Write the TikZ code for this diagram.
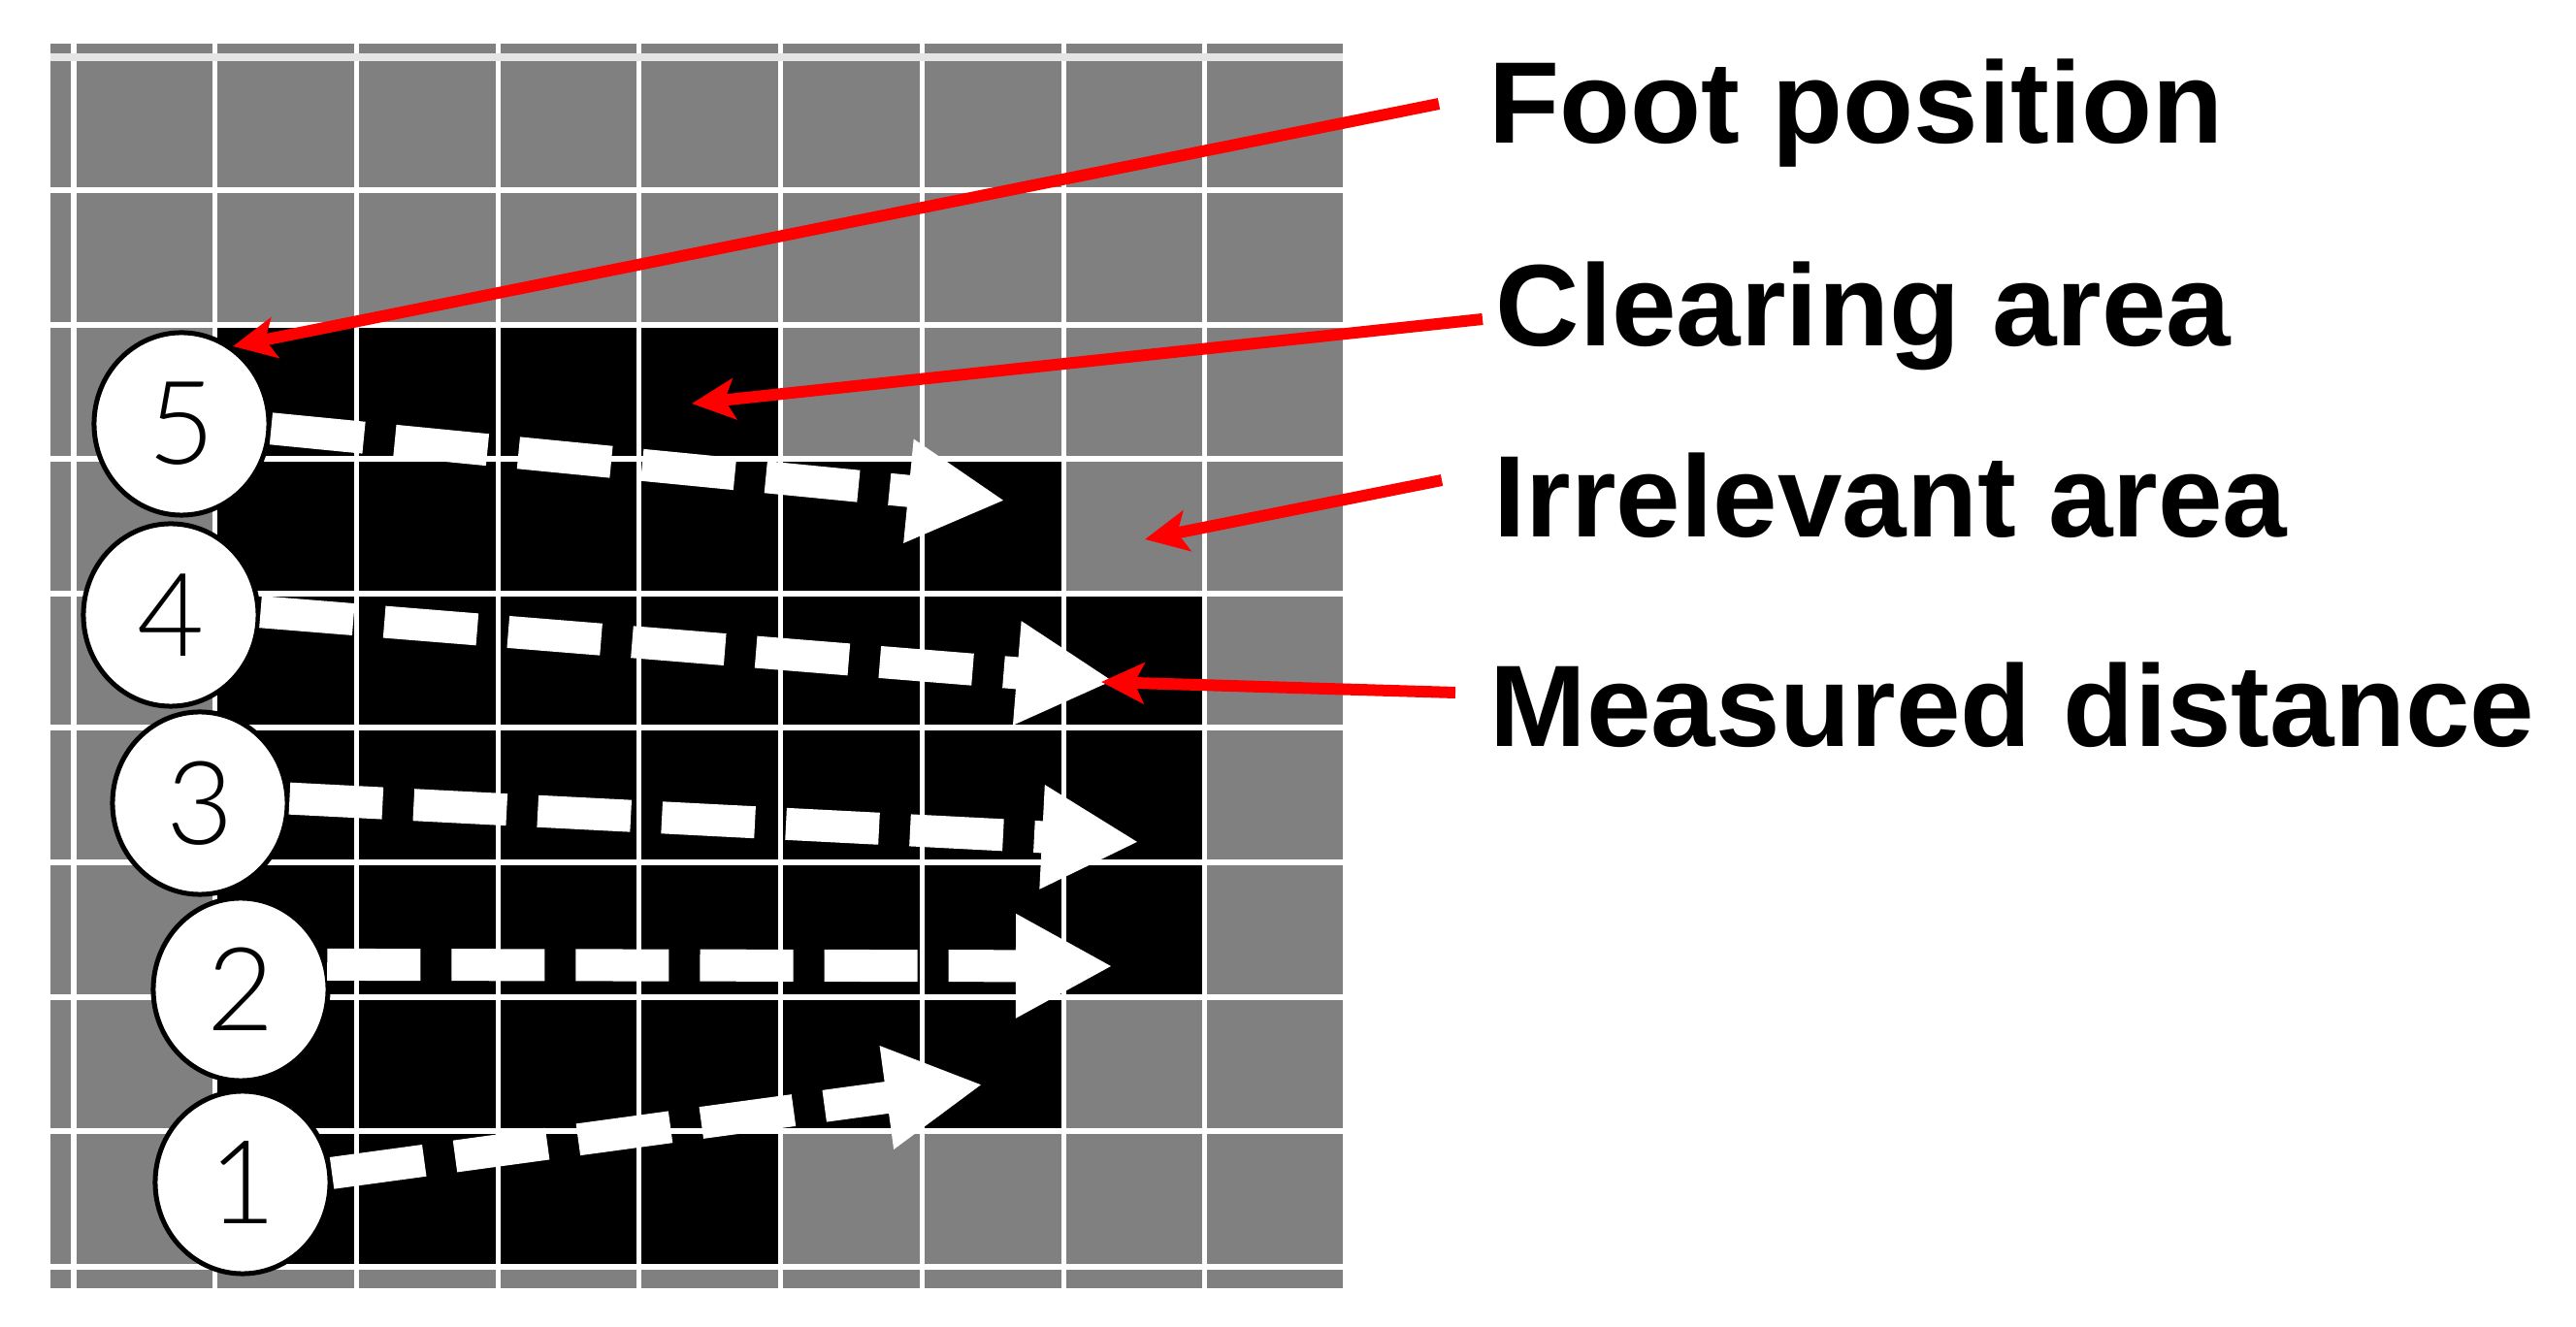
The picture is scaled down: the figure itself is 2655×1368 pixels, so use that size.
\documentclass[tikz,border=0pt]{standalone}
\usepackage{fontspec}
\setmainfont{Liberation Sans}
\newfontfamily\digitfont{Lato Light}
\usetikzlibrary{arrows.meta,shapes.geometric}
\definecolor{gridgray}{HTML}{808080}
\begin{document}
\begin{tikzpicture}[x=0.01cm,y=-0.01cm,
  gridline/.style={white,line width=0.05cm},
  walkarrow/.style={white,line width=0.33cm,dash pattern=on 0.96cm off 0.32cm,
    -{Triangle[length=1.0cm,width=1.0cm]}},
  callout/.style={red,line width=0.12cm,
    -{Stealth[length=0.44cm,width=0.42cm,inset=0.1cm]}},
  footmark/.style={ellipse,draw=black,line width=0.05cm,fill=white,
    minimum width=1.8cm,minimum height=1.88cm,inner sep=0pt,
    font=\digitfont\fontsize{34}{40}\selectfont},
  labeltext/.style={anchor=base west,inner sep=0pt,
    font=\bfseries\fontsize{34}{40}\selectfont}]
\useasboundingbox (0,0) rectangle (2655,1368);

% grid
\begin{scope}
  \clip (52,45) rectangle (1384,1328);
  \fill[gridgray] (52,45) rectangle (1384,1328);
  \fill[black] (221,337) -- (805,337) -- (805,473) -- (1096,473) -- (1096,612)
    -- (1241,612) -- (1241,1029) -- (1096,1029) -- (1096,1166) -- (805,1166)
    -- (805,1306) -- (221,1306) -- cycle;
  \foreach \x in {76,221.5,367,513,658.5,804.5,950,1096,1241,1386}
    \draw[gridline] (\x,45) -- (\x,1328);
  \foreach \y in {196,335,473,612,750,889,1028,1166,1306}
    \draw[gridline,line width=0.06cm] (52,\y) -- (1384,\y);
  \draw[white!90!black,line width=0.08cm] (52,59) -- (1384,59);
\end{scope}

% foot positions
\node[footmark] (c5) at (187,437) {5};
\node[footmark] (c4) at (176,634) {4};
\node[footmark] (c3) at (206,828) {3};
\node[footmark] (c2) at (248,1020) {2};
\node[footmark] (c1) at (250,1219) {1};

% arrow tips
\coordinate (t5) at (1036,516);
\coordinate (t4) at (1148,702);
\coordinate (t3) at (1174,868);
\coordinate (t2) at (1147,996);
\coordinate (t1) at (1013,1118);

\draw[walkarrow] (c5.-3) -- (t5);
\draw[walkarrow] (c4.2) -- (t4);
\draw[walkarrow] (c3.3) -- (t3);
\draw[walkarrow] (c2.16) -- (t2);
\draw[walkarrow] (c1.6) -- (t1);

% labels
\node[labeltext] (lf) at (1534,148) {Foot position};
\node[labeltext] (lc) at (1541,357) {Clearing area};
\node[labeltext] (li) at (1539,554) {Irrelevant area};
\node[labeltext] (lm) at (1535,770) {Measured distance};

% callout targets
\coordinate (r1) at (240,357);
\coordinate (r2) at (713,416);
\coordinate (r3) at (1180,556);
\coordinate (r4) at (1135,703);

\draw[callout] ([shift={(-51,-41)}]lf.base west) -- (r1);
\draw[callout] ([shift={(-13,-28)}]lc.base west) -- (r2);
\draw[callout] ([shift={(-53,-59)}]li.base west) -- (r3);
\draw[callout] ([shift={(-35,-56)}]lm.base west) -- (r4);
\end{tikzpicture}
\end{document}
